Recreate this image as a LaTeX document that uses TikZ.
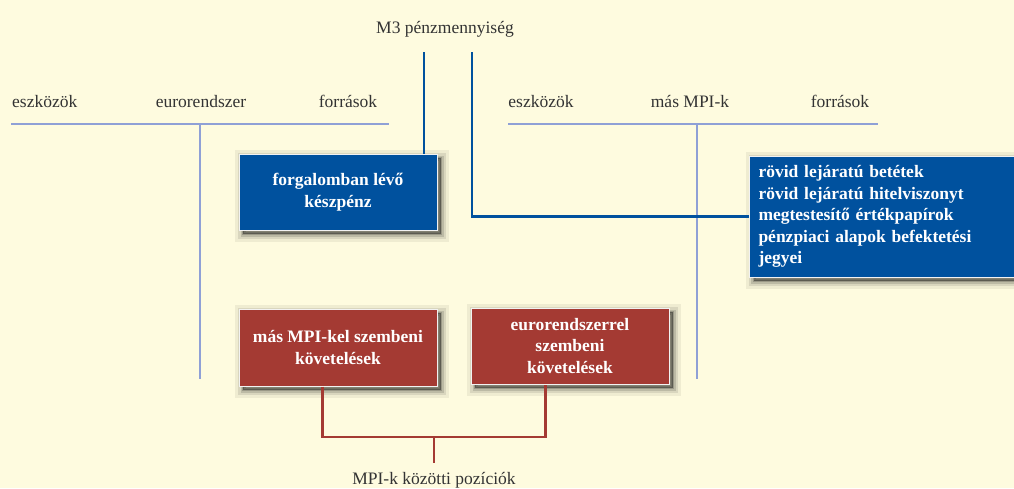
\documentclass[tikz,border=0pt]{standalone}
\usepackage{fontspec}
\setmainfont{Liberation Serif}
\definecolor{bgc}{HTML}{FEFBDF}
\definecolor{mnbblue}{HTML}{00519E}
\definecolor{mnbred}{HTML}{A43A33}
\definecolor{axisc}{HTML}{8FA0D6}
\definecolor{txtc}{HTML}{333333}
\tikzset{
  lbl/.style={text=txtc, font=\fontsize{17.5}{21}\selectfont, inner sep=0pt, anchor=base},
  boxbase/.style={draw=white!90!gray, line width=1pt, text=white,
    font=\bfseries\fontsize{17.5}{21.5}\selectfont, align=center, inner sep=0pt,
    preaction={draw=black, fill=black, opacity=0.06, line width=16pt, transform canvas={shift={(4pt,-4pt)}}},
    preaction={draw=black, fill=black, opacity=0.09, line width=10pt, transform canvas={shift={(4pt,-4pt)}}},
    preaction={draw=black, fill=black, opacity=0.13, line width=5pt, transform canvas={shift={(4pt,-4pt)}}},
    preaction={draw=black, fill=black, opacity=0.18, line width=1.5pt, transform canvas={shift={(4pt,-4pt)}}}},
  bluebox/.style={boxbase, fill=mnbblue},
  redbox/.style={boxbase, fill=mnbred},
  axisline/.style={draw=axisc, line width=2.2pt},
  blueline/.style={draw=mnbblue, line width=2.4pt},
  redline/.style={draw=mnbred, line width=2.4pt},
}
\begin{document}
\begin{tikzpicture}[x=1pt,y=-1pt]
\useasboundingbox (0,0) rectangle (1014,488);
\clip (0,0) rectangle (1014,488);
\fill[bgc] (0,0) rectangle (1014,488);

% headers
\node[lbl] (m3) at (445,33) {M3 pénzmennyiség};
\node[lbl, anchor=base west] (le) at (12,107) {eszközök};
\node[lbl] (lm) at (201,107) {eurorendszer};
\node[lbl] (lf) at (348,107) {források};
\node[lbl] (re) at (541,107) {eszközök};
\node[lbl] (rm) at (690,107) {más MPI-k};
\node[lbl] (rf) at (840,107) {források};

% axis lines
\coordinate (la) at (11,124);
\coordinate (lb) at (389,124);
\coordinate (lc) at (200,124);
\coordinate (ld) at (200,379);
\coordinate (ra) at (508,124);
\coordinate (rb) at (878,124);
\coordinate (rc) at (697,124);
\coordinate (rd) at (697,379);
\draw[axisline] (la) -- (lb);
\draw[axisline] (lc) -- (ld);
\draw[axisline] (ra) -- (rb);
\draw[axisline] (rc) -- (rd);

% M3 lines
\coordinate (t1) at (424,52);
\coordinate (t2) at (472,52);

% boxes
\node[bluebox, minimum width=198pt, minimum height=76pt] (bb1) at (338,192) {forgalomban lévő\\készpénz};
\node[bluebox, minimum width=276pt, minimum height=121pt, text width=258pt, align=left, inner xsep=9pt, anchor=west] (bb2) at (749,216.5) {rövid lejáratú betétek\\rövid lejáratú hitelviszonyt\\megtestesítő értékpapírok\\pénzpiaci alapok befektetési\\jegyei};
\node[redbox, minimum width=198pt, minimum height=77pt] (rb1) at (338,347.5) {más MPI-kel szembeni\\követelések};
\node[redbox, minimum width=198pt, minimum height=76pt] (rb2) at (570,346) {eurorendszerrel\\szembeni\\követelések};

\draw[blueline] (t1) -- (t1 |- bb1.north);
\draw[blueline] (t2) |- (bb2.west);

% red connector
\node[lbl] (mpi) at (434,484) {MPI-k közötti pozíciók};
\coordinate (j) at (434,437);
\coordinate (jb) at (434,463);
\draw[redline] ([xshift=84pt]rb1.south west) |- (j) -| ([xshift=75pt]rb2.south west);
\draw[redline] (j) -- (jb);
\end{tikzpicture}
\end{document}
